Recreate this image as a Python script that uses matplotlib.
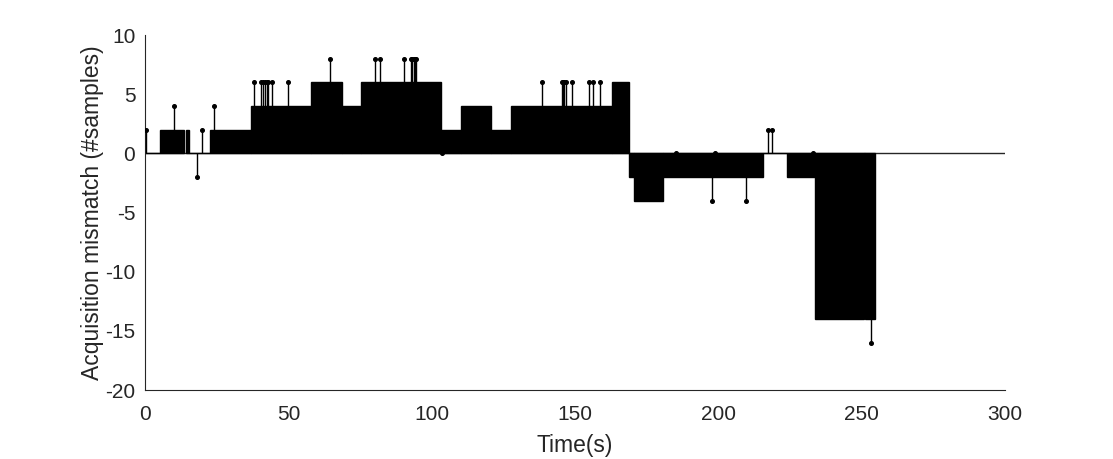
import numpy as np
import matplotlib
matplotlib.use("Agg")
import matplotlib.pyplot as plt

plt.rcParams['font.family'] = ['Liberation Sans', 'DejaVu Sans']
plt.rcParams['axes.unicode_minus'] = False

# flat runs of the mismatch signal: start time, end time, value
seg_start = [0, 5.2, 14.2, 15.3, 22.7, 37, 58, 68.6, 75.3, 103.2, 110.2, 120.7,
             127.7, 162.8, 168.8, 170.6, 180.8, 215.7, 223.8, 233.7, 250.9, 251.3]
seg_end = [5.2, 13.6, 15.3, 22.7, 37, 58, 68.6, 75.3, 103.2, 110.2, 120.7, 127.7,
           162.8, 168.8, 170.6, 180.8, 215.7, 223.8, 233.7, 250.9, 251.3, 254.6]
seg_value = [0, 2, 2, 0, 2, 4, 6, 4, 6, 2, 4, 2,
             4, 6, -2, -4, -2, 0, -2, -14, -12, -14]

# isolated samples sticking out of the runs
spike_t = [0.2, 10.2, 18.3, 20, 24, 37.9, 40.5, 41.3, 41.9, 42.5, 43, 44.3, 50,
           64.5, 80.2, 82, 90.5, 92.9, 93.3, 93.7, 94.1, 94.5, 103.5,
           138.4, 145.5, 145.9, 146.3, 146.8, 149, 154.7, 156.4, 158.7,
           185.2, 197.9, 198.8, 209.5, 217.4, 218.8, 233, 253.1]
spike_v = [2, 4, -2, 2, 4, 6, 6, 6, 6, 6, 6, 6, 6,
           8, 8, 8, 8, 8, 8, 8, 8, 8, 0,
           6, 6, 6, 6, 6, 6, 6, 6, 6,
           0, -4, 0, -4, 2, 2, 0, -16]

txt = '#262626'

fig = plt.figure(figsize=(11.13, 4.59), dpi=100)
ax = fig.add_axes([0.1303, 0.1503, 0.7727, 0.7734])

widths = np.array(seg_end) - np.array(seg_start)
ax.bar(seg_start, seg_value, width=widths, align='edge', color='black',
       edgecolor='black', linewidth=1.0, zorder=2)

ax.vlines(spike_t, 0, spike_v, color='black', linewidth=1, zorder=3)
ax.plot(spike_t, spike_v, 'o', color='black', markersize=2.6, zorder=4)

ax.axhline(0, color=txt, linewidth=1, zorder=1)

ax.set_xlim(0, 300)
ax.set_ylim(-20, 10)
ax.set_xticks(range(0, 301, 50))
ax.set_yticks(range(-20, 11, 5))
ax.tick_params(length=0, labelsize=15, colors=txt)
ax.tick_params(axis='x', pad=11)
ax.tick_params(axis='y', pad=7)
for s in ['top', 'right']:
    ax.spines[s].set_visible(False)
for s in ['left', 'bottom']:
    ax.spines[s].set_color(txt)
    ax.spines[s].set_linewidth(0.8)

ax.set_xlabel('Time(s)', fontsize=16.5, color=txt, labelpad=7)
ax.set_ylabel('Acquisition mismatch (#samples)', fontsize=16.5, color=txt, labelpad=1)

fig.savefig('out.png', dpi=100)
